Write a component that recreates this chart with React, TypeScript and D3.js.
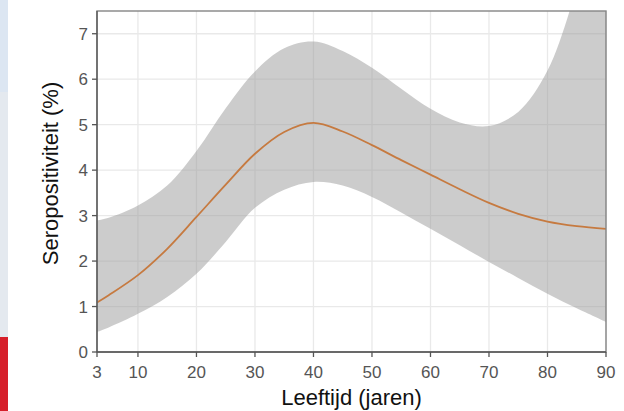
import React from "react";
import * as d3 from "d3";

// leeftijd (jaren) en seropositiviteit (%) met betrouwbaarheidsband
const ages = [3, 5, 10, 15, 20, 25, 30, 35, 40, 45, 50, 55, 60, 65, 70, 75, 80, 85, 90];
const fit = [1.09, 1.25, 1.69, 2.27, 2.97, 3.68, 4.36, 4.84, 5.04, 4.85, 4.55, 4.22, 3.9, 3.58, 3.28, 3.04, 2.87, 2.77, 2.71];
const upper = [2.89, 2.95, 3.22, 3.66, 4.42, 5.36, 6.17, 6.68, 6.83, 6.62, 6.25, 5.79, 5.35, 5.05, 4.97, 5.28, 6.19, 8.0, 10.2];
const lower = [0.44, 0.54, 0.84, 1.21, 1.72, 2.42, 3.17, 3.57, 3.74, 3.66, 3.41, 3.07, 2.71, 2.35, 1.98, 1.63, 1.28, 0.96, 0.66];

const xTicks = [3, 10, 20, 30, 40, 50, 60, 70, 80, 90];
const yTicks = [0, 1, 2, 3, 4, 5, 6, 7];

const W = 624;
const H = 411;
const left = 97;
const right = 606;
const top = 11;
const bottom = 352;

const App = () => {
  const x = d3.scaleLinear().domain([3, 90]).range([left, right]);
  const y = d3.scaleLinear().domain([0, 7.5]).range([bottom, top]);

  const rows = ages.map((a, i) => ({ a, f: fit[i], lo: lower[i], hi: upper[i] }));

  const band = d3
    .area<any>()
    .x(d => x(d.a))
    .y0(d => y(d.lo))
    .y1(d => y(d.hi))
    .curve(d3.curveCatmullRom.alpha(0.5))(rows);

  const line = d3
    .line<any>()
    .x(d => x(d.a))
    .y(d => y(d.f))
    .curve(d3.curveCatmullRom.alpha(0.5))(rows);

  const font = "'Liberation Sans', Arial, sans-serif";

  return (
    <svg width={W} height={H} style={{ position: "absolute", left: 0, top: 0 }}>
      <rect x={0} y={0} width={W} height={H} fill="#ffffff" />
      {/* page strip on the left */}
      <rect x={0} y={0} width={8} height={92} fill="#dce6f2" />
      <rect x={0} y={92} width={8} height={245} fill="#e4e9ef" />
      <rect x={0} y={337} width={8} height={74} fill="#d61f2a" />

      <defs>
        <clipPath id="panel">
          <rect x={left} y={top} width={right - left} height={bottom - top} />
        </clipPath>
      </defs>

      {/* grid */}
      {xTicks.filter(t => t !== 3).map(t => (
        <line key={"gx" + t} x1={x(t)} x2={x(t)} y1={top} y2={bottom} stroke="#e9e9e9" strokeWidth={1.3} />
      ))}
      {yTicks.filter(t => t !== 0).map(t => (
        <line key={"gy" + t} x1={left} x2={right} y1={y(t)} y2={y(t)} stroke="#e9e9e9" strokeWidth={1.3} />
      ))}

      <g clipPath="url(#panel)">
        <path d={band ?? ""} fill="#999999" fillOpacity={0.5} />
        <path d={line ?? ""} fill="none" stroke="#c67a40" strokeWidth={1.8} />
      </g>

      {/* panel border */}
      <rect x={left} y={top} width={right - left} height={bottom - top} fill="none" stroke="#858585" strokeWidth={1.4} />
      <line x1={left} x2={right} y1={bottom} y2={bottom} stroke="#555555" strokeWidth={1.3} />
      <line x1={left} x2={left} y1={top} y2={bottom} stroke="#555555" strokeWidth={1.3} />

      {/* x axis */}
      {xTicks.map(t => (
        <g key={"xt" + t} transform={`translate(${x(t)},${bottom})`}>
          <line y1={0} y2={5} stroke="#555555" strokeWidth={1.3} />
          <text y={26} textAnchor="middle" fontFamily={font} fontSize={17} fill="#555555">
            {t}
          </text>
        </g>
      ))}
      {/* y axis */}
      {yTicks.map(t => (
        <g key={"yt" + t} transform={`translate(${left},${y(t)})`}>
          <line x1={0} x2={-5} stroke="#555555" strokeWidth={1.3} />
          <text x={-9} dy="0.36em" textAnchor="end" fontFamily={font} fontSize={17} fill="#555555">
            {t}
          </text>
        </g>
      ))}

      <text x={(left + right) / 2} y={405} textAnchor="middle" fontFamily={font} fontSize={22} fill="#111111">
        Leeftijd (jaren)
      </text>
      <text
        transform={`translate(58,${(top + bottom) / 2 - 8}) rotate(-90)`}
        textAnchor="middle"
        fontFamily={font}
        fontSize={22}
        fill="#111111"
      >
        Seropositiviteit (%)
      </text>
    </svg>
  );
};

export default App;
